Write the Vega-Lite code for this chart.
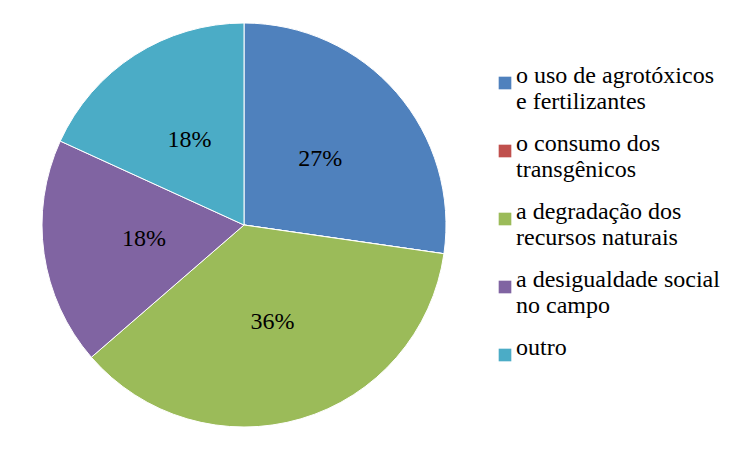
{
  "$schema": "https://vega.github.io/schema/vega-lite/v6.json",
  "width": 488,
  "height": 450,
  "autosize": {"type": "none"},
  "padding": {"left": 0, "right": 262, "top": 0, "bottom": 0},
  "background": "white",
  "config": {"view": {"stroke": null}, "font": "Liberation Serif"},
  "data": {
    "values": [
      {"i": 1, "cat": "o uso de agrotóxicos|e fertilizantes", "value": 3, "pct": "27%"},
      {"i": 2, "cat": "o consumo dos|transgênicos", "value": 0, "pct": ""},
      {"i": 3, "cat": "a degradação dos|recursos naturais", "value": 4, "pct": "36%"},
      {"i": 4, "cat": "a desigualdade social|no campo", "value": 2, "pct": "18%"},
      {"i": 5, "cat": "outro", "value": 2, "pct": "18%"}
    ]
  },
  "encoding": {
    "theta": {"field": "value", "type": "quantitative", "stack": true},
    "order": {"field": "i", "type": "quantitative"},
    "color": {
      "field": "cat",
      "type": "nominal",
      "sort": null,
      "scale": {
        "domain": ["o uso de agrotóxicos|e fertilizantes", "o consumo dos|transgênicos", "a degradação dos|recursos naturais", "a desigualdade social|no campo", "outro"],
        "range": ["#4F81BD", "#C0504D", "#9BBB59", "#8064A2", "#4BACC6"]
      },
      "legend": {
        "title": null,
        "orient": "none",
        "legendX": 493,
        "legendY": 71,
        "padding": 0,
        "symbolType": "square",
        "symbolSize": 160,
        "symbolStrokeWidth": 0,
        "labelFont": "Liberation Serif",
        "labelFontSize": 24,
        "labelColor": "black",
        "labelLimit": 300,
        "labelOffset": -1,
        "labelBaseline": "alphabetic",
        "labelExpr": "split(datum.label, '|')",
        "rowPadding": 18,
        "encode": {"labels": {"update": {"dy": {"value": 8}, "lineHeight": {"value": 25}}}}
      }
    }
  },
  "layer": [
    {"mark": {"type": "arc", "outerRadius": 202, "stroke": "white", "strokeWidth": 1}},
    {
      "mark": {"type": "text", "radius": 101, "font": "Liberation Serif", "fontSize": 24, "color": "black"},
      "encoding": {"text": {"field": "pct", "type": "nominal"}, "color": {"value": "black"}}
    }
  ]
}
